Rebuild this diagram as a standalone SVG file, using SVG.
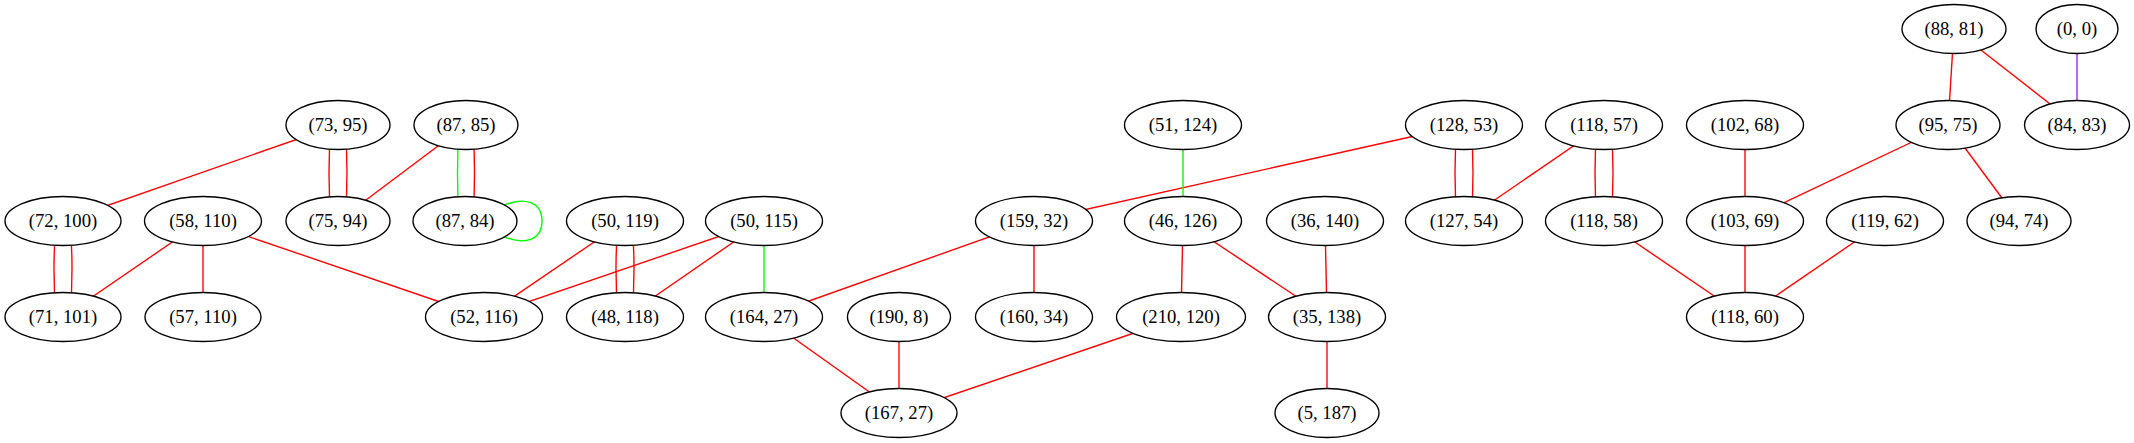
<svg xmlns="http://www.w3.org/2000/svg" width="2134" height="443" viewBox="0 0 2134 443">
<style>
.e{fill:none;stroke-width:1.36}
.r{stroke:#ff0000}
.g{stroke:#00ff00}
.p{stroke:#a020f0}
.n ellipse{fill:#ffffff;stroke:#000000;stroke-width:1.36}
.n text{font-family:"Liberation Serif","Times New Roman",serif;font-size:18.67px;text-anchor:middle;fill:#000000}
</style>
<rect width="2134" height="443" fill="#ffffff"/>
<g id="connectors">
<line class="e r" x1="338" y1="125" x2="63" y2="221"/>
<path class="e r" d="M331,125 Q327,173 331,221"/>
<path class="e r" d="M345,125 Q349,173 345,221"/>
<line class="e r" x1="466" y1="125" x2="338" y2="221"/>
<path class="e g" d="M459,125 Q456,173 459,221"/>
<path class="e r" d="M473,125 Q476,173 473,221"/>
<path class="e g" d="M502,206 C525,196 542,202 542,221 C542,240 525,246 502,236"/>
<path class="e r" d="M56,221 Q52,269 56,317"/>
<path class="e r" d="M70,221 Q74,269 70,317"/>
<line class="e r" x1="203" y1="221" x2="63" y2="317"/>
<line class="e r" x1="203" y1="221" x2="203" y2="317"/>
<line class="e r" x1="203" y1="221" x2="484" y2="317"/>
<line class="e r" x1="625" y1="221" x2="484" y2="317"/>
<line class="e r" x1="764" y1="221" x2="484" y2="317"/>
<path class="e r" d="M618,221 Q614,269 618,317"/>
<path class="e r" d="M632,221 Q636,269 632,317"/>
<line class="e r" x1="764" y1="221" x2="625" y2="317"/>
<line class="e g" x1="764" y1="221" x2="764" y2="317"/>
<line class="e r" x1="1034" y1="221" x2="764" y2="317"/>
<line class="e r" x1="1034" y1="221" x2="1034" y2="317"/>
<line class="e r" x1="764" y1="317" x2="899" y2="413"/>
<line class="e r" x1="899" y1="317" x2="899" y2="413"/>
<line class="e r" x1="1181" y1="317" x2="899" y2="413"/>
<line class="e r" x1="1464" y1="125" x2="1034" y2="221"/>
<line class="e g" x1="1183" y1="125" x2="1183" y2="221"/>
<path class="e r" d="M1457,125 Q1453,173 1457,221"/>
<path class="e r" d="M1471,125 Q1475,173 1471,221"/>
<line class="e r" x1="1604" y1="125" x2="1464" y2="221"/>
<path class="e r" d="M1597,125 Q1593,173 1597,221"/>
<path class="e r" d="M1611,125 Q1615,173 1611,221"/>
<line class="e r" x1="1183" y1="221" x2="1181" y2="317"/>
<line class="e r" x1="1183" y1="221" x2="1327" y2="317"/>
<line class="e r" x1="1325" y1="221" x2="1327" y2="317"/>
<line class="e r" x1="1327" y1="317" x2="1327" y2="413"/>
<line class="e r" x1="1954" y1="29" x2="1948" y2="125"/>
<line class="e r" x1="1954" y1="29" x2="2077" y2="125"/>
<line class="e p" x1="2077" y1="29" x2="2077" y2="125"/>
<line class="e r" x1="1948" y1="125" x2="1745" y2="221"/>
<line class="e r" x1="1948" y1="125" x2="2019" y2="221"/>
<line class="e r" x1="1745" y1="125" x2="1745" y2="221"/>
<line class="e r" x1="1745" y1="221" x2="1745" y2="317"/>
<line class="e r" x1="1604" y1="221" x2="1745" y2="317"/>
<line class="e r" x1="1885" y1="221" x2="1745" y2="317"/>
</g>
<g id="n73_95" class="n"><ellipse cx="338" cy="125" rx="52" ry="24.5"/><text x="338" y="131">(73, 95)</text></g>
<g id="n87_85" class="n"><ellipse cx="466" cy="125" rx="52" ry="24.5"/><text x="466" y="131">(87, 85)</text></g>
<g id="n72_100" class="n"><ellipse cx="63" cy="221" rx="58" ry="24.5"/><text x="63" y="227">(72, 100)</text></g>
<g id="n58_110" class="n"><ellipse cx="203" cy="221" rx="58.5" ry="24.5"/><text x="203" y="227">(58, 110)</text></g>
<g id="n75_94" class="n"><ellipse cx="338" cy="221" rx="52" ry="24.5"/><text x="338" y="227">(75, 94)</text></g>
<g id="n87_84" class="n"><ellipse cx="465" cy="221" rx="52" ry="24.5"/><text x="465" y="227">(87, 84)</text></g>
<g id="n71_101" class="n"><ellipse cx="63" cy="317" rx="58" ry="24.5"/><text x="63" y="323">(71, 101)</text></g>
<g id="n57_110" class="n"><ellipse cx="203" cy="317" rx="58" ry="24.5"/><text x="203" y="323">(57, 110)</text></g>
<g id="n52_116" class="n"><ellipse cx="484" cy="317" rx="58.5" ry="24.5"/><text x="484" y="323">(52, 116)</text></g>
<g id="n50_119" class="n"><ellipse cx="625" cy="221" rx="58.5" ry="24.5"/><text x="625" y="227">(50, 119)</text></g>
<g id="n50_115" class="n"><ellipse cx="764" cy="221" rx="58.5" ry="24.5"/><text x="764" y="227">(50, 115)</text></g>
<g id="n159_32" class="n"><ellipse cx="1034" cy="221" rx="58.5" ry="24.5"/><text x="1034" y="227">(159, 32)</text></g>
<g id="n48_118" class="n"><ellipse cx="625" cy="317" rx="58.5" ry="24.5"/><text x="625" y="323">(48, 118)</text></g>
<g id="n164_27" class="n"><ellipse cx="764" cy="317" rx="58.5" ry="24.5"/><text x="764" y="323">(164, 27)</text></g>
<g id="n190_8" class="n"><ellipse cx="899" cy="317" rx="51.5" ry="24.5"/><text x="899" y="323">(190, 8)</text></g>
<g id="n160_34" class="n"><ellipse cx="1034" cy="317" rx="58.5" ry="24.5"/><text x="1034" y="323">(160, 34)</text></g>
<g id="n167_27" class="n"><ellipse cx="899" cy="413" rx="58" ry="24.5"/><text x="899" y="419">(167, 27)</text></g>
<g id="n51_124" class="n"><ellipse cx="1183" cy="125" rx="58.5" ry="24.5"/><text x="1183" y="131">(51, 124)</text></g>
<g id="n128_53" class="n"><ellipse cx="1464" cy="125" rx="58.5" ry="24.5"/><text x="1464" y="131">(128, 53)</text></g>
<g id="n118_57" class="n"><ellipse cx="1604" cy="125" rx="58.5" ry="24.5"/><text x="1604" y="131">(118, 57)</text></g>
<g id="n46_126" class="n"><ellipse cx="1183" cy="221" rx="58.5" ry="24.5"/><text x="1183" y="227">(46, 126)</text></g>
<g id="n36_140" class="n"><ellipse cx="1325" cy="221" rx="58.5" ry="24.5"/><text x="1325" y="227">(36, 140)</text></g>
<g id="n127_54" class="n"><ellipse cx="1464" cy="221" rx="58.5" ry="24.5"/><text x="1464" y="227">(127, 54)</text></g>
<g id="n118_58" class="n"><ellipse cx="1604" cy="221" rx="58.5" ry="24.5"/><text x="1604" y="227">(118, 58)</text></g>
<g id="n210_120" class="n"><ellipse cx="1181" cy="317" rx="64.5" ry="24.5"/><text x="1181" y="323">(210, 120)</text></g>
<g id="n35_138" class="n"><ellipse cx="1327" cy="317" rx="58.5" ry="24.5"/><text x="1327" y="323">(35, 138)</text></g>
<g id="n5_187" class="n"><ellipse cx="1327" cy="413" rx="52" ry="24.5"/><text x="1327" y="419">(5, 187)</text></g>
<g id="n88_81" class="n"><ellipse cx="1954" cy="29" rx="52" ry="24.5"/><text x="1954" y="35">(88, 81)</text></g>
<g id="n0_0" class="n"><ellipse cx="2077" cy="29" rx="41" ry="24.5"/><text x="2077" y="35">(0, 0)</text></g>
<g id="n102_68" class="n"><ellipse cx="1745" cy="125" rx="58.5" ry="24.5"/><text x="1745" y="131">(102, 68)</text></g>
<g id="n95_75" class="n"><ellipse cx="1948" cy="125" rx="52" ry="24.5"/><text x="1948" y="131">(95, 75)</text></g>
<g id="n84_83" class="n"><ellipse cx="2077" cy="125" rx="52.5" ry="24.5"/><text x="2077" y="131">(84, 83)</text></g>
<g id="n103_69" class="n"><ellipse cx="1745" cy="221" rx="58.5" ry="24.5"/><text x="1745" y="227">(103, 69)</text></g>
<g id="n119_62" class="n"><ellipse cx="1885" cy="221" rx="58.5" ry="24.5"/><text x="1885" y="227">(119, 62)</text></g>
<g id="n94_74" class="n"><ellipse cx="2019" cy="221" rx="52" ry="24.5"/><text x="2019" y="227">(94, 74)</text></g>
<g id="n118_60" class="n"><ellipse cx="1745" cy="317" rx="58.5" ry="24.5"/><text x="1745" y="323">(118, 60)</text></g>
</svg>
